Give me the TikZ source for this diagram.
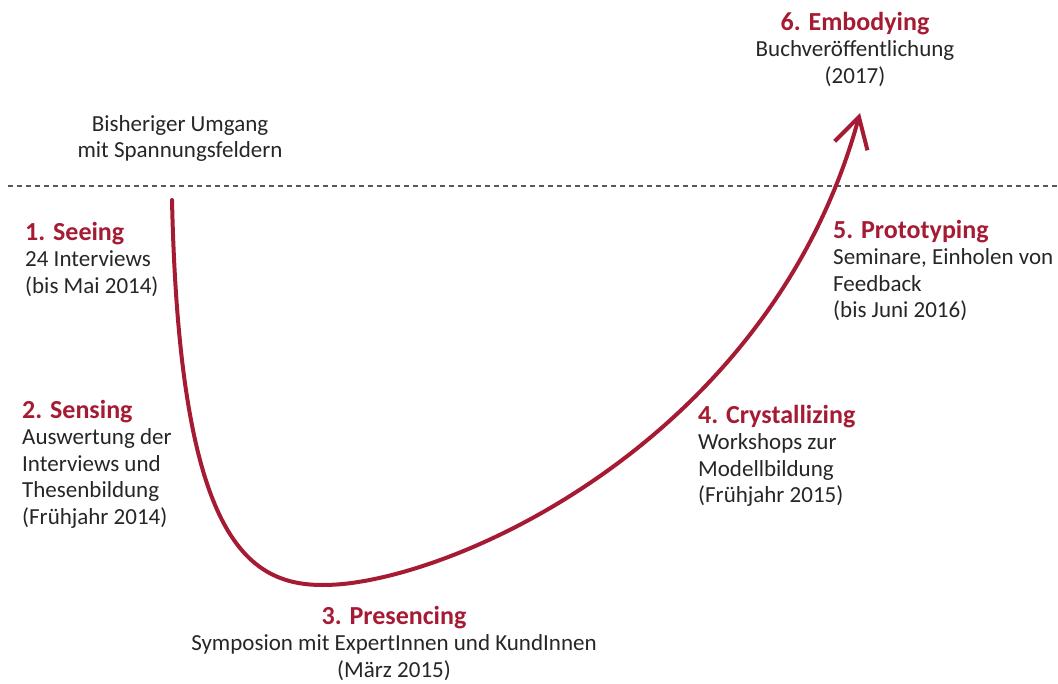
\documentclass[tikz,border=0pt]{standalone}
\usepackage{fontspec}
\setmainfont{Carlito}
\usetikzlibrary{arrows.meta}

\definecolor{uured}{RGB}{166,27,52}
\definecolor{textgray}{RGB}{38,38,38}

\newcommand{\bodyfont}{\fontsize{23}{26.5}\selectfont}
\newcommand{\phase}[1]{{\fontsize{26}{26.5}\selectfont\bfseries\color{uured}#1}}

\begin{document}
\begin{tikzpicture}[x=1pt, y=-1pt,
  every node/.style = {inner sep=0pt, text=textgray, font=\bodyfont},
  phasebox/.style = {anchor=north west, align=left},
  centerbox/.style = {anchor=north, align=center},
  journey/.style = {draw=uured, line width=4pt, line cap=round,
    -{Straight Barb[length=30pt, width=34pt]}}]
  \useasboundingbox (0,0) rectangle (1058,684);

  \draw[gray!70!black, line width=1.2pt, dash pattern=on 5pt off 4pt]
    (8,186) coordinate (divleft) -- (1058,186) coordinate (divright);

  \node[centerbox] (before) at (180,115) {Bisheriger Umgang\\mit Spannungsfeldern};

  \node[phasebox] (seeing) at (25,222)
    {\phase{1. Seeing}\\24 Interviews\\(bis Mai 2014)};
  \node[phasebox] (sensing) at (22,400)
    {\phase{2. Sensing}\\Auswertung der\\Interviews und\\Thesenbildung\\(Frühjahr 2014)};
  \node[centerbox] (presencing) at (394,606)
    {\phase{3. Presencing}\\Symposion mit ExpertInnen und KundInnen\\(März 2015)};
  \node[phasebox] (crystallizing) at (698,405)
    {\phase{4. Crystallizing}\\Workshops zur\\Modellbildung\\(Frühjahr 2015)};
  \node[phasebox] (prototyping) at (833,220)
    {\phase{5. Prototyping}\\Seminare, Einholen von\\Feedback\\(bis Juni 2016)};
  \node[centerbox] (embodying) at (855,12)
    {\phase{6. Embodying}\\Buchveröffentlichung\\(2017)};

  \coordinate (start) at (172,200);
  \coordinate (bottom) at (343,584);
  \coordinate (tip) at (860,113);
  \draw[journey] (start) .. controls (180,560) and (255,592) .. (bottom)
    .. controls (480,570) and (775,425) .. (tip);
\end{tikzpicture}
\end{document}
